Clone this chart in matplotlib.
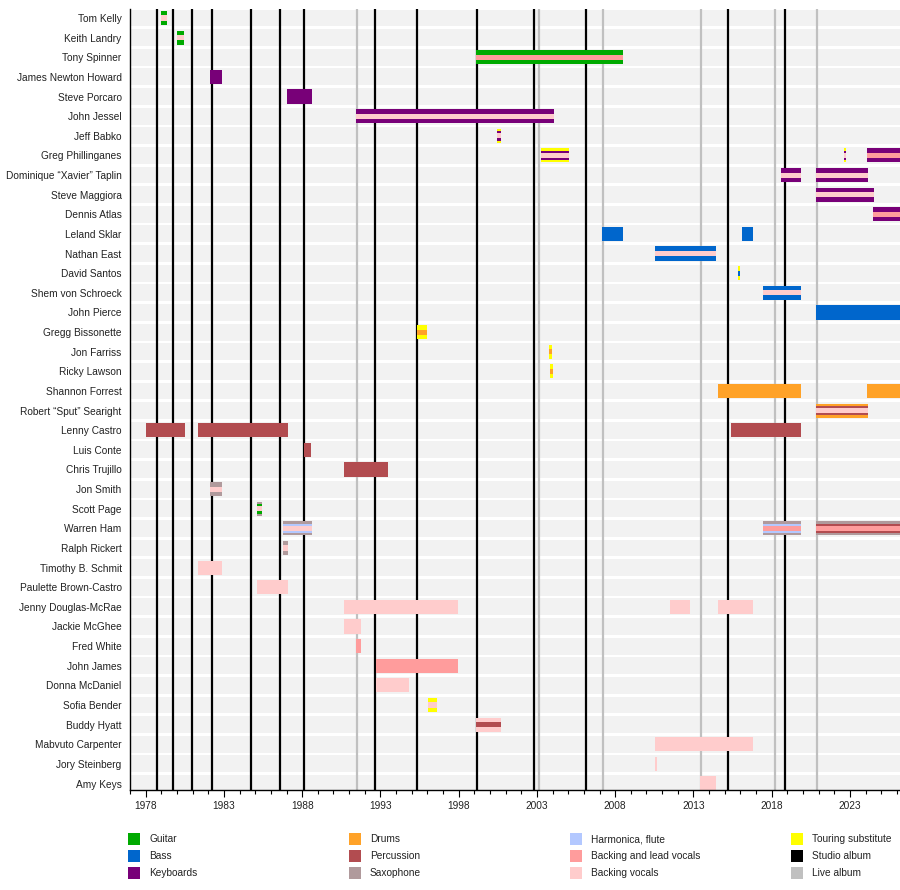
import matplotlib
matplotlib.use("Agg")
import matplotlib.pyplot as plt
from matplotlib.patches import Rectangle

plt.rcParams['font.family'] = ['Liberation Sans', 'DejaVu Sans']

END = 2026.2

names = ["Tom Kelly", "Keith Landry", "Tony Spinner", "James Newton Howard", "Steve Porcaro",
         "John Jessel", "Jeff Babko", "Greg Phillinganes", "Dominique \u201cXavier\u201d Taplin",
         "Steve Maggiora", "Dennis Atlas", "Leland Sklar", "Nathan East", "David Santos",
         "Shem von Schroeck", "John Pierce", "Gregg Bissonette", "Jon Farriss", "Ricky Lawson",
         "Shannon Forrest", "Robert \u201cSput\u201d Searight", "Lenny Castro", "Luis Conte",
         "Chris Trujillo", "Jon Smith", "Scott Page", "Warren Ham", "Ralph Rickert",
         "Timothy B. Schmit", "Paulette Brown-Castro", "Jenny Douglas-McRae", "Jackie McGhee",
         "Fred White", "John James", "Donna McDaniel", "Sofia Bender", "Buddy Hyatt",
         "Mabvuto Carpenter", "Jory Steinberg", "Amy Keys"]

# (start, end, roles) per member; first role is the outer bar
periods = [
    [(1979.0, 1979.35, ("guitar", "backing"))],
    [(1980.0, 1980.43, ("guitar", "backing"))],
    [(1999.1, 2008.5, ("guitar", "lead"))],
    [(1982.13, 1982.86, ("keyboards",))],
    [(1987.03, 1988.63, ("keyboards",))],
    [(1991.44, 2004.09, ("keyboards", "backing"))],
    [(2000.43, 2000.7, ("touring", "keyboards", "backing"))],
    [(2003.26, 2005.05, ("touring", "keyboards", "backing")),
     (2022.65, 2022.78, ("touring", "keyboards", "backing")),
     (2024.1, END, ("keyboards", "lead"))],
    [(2018.6, 2019.87, ("keyboards", "backing")), (2020.83, 2024.17, ("keyboards", "backing"))],
    [(2020.83, 2024.55, ("keyboards", "backing"))],
    [(2024.48, END, ("keyboards", "lead"))],
    [(2007.16, 2008.5, ("bass",)), (2016.1, 2016.8, ("bass",))],
    [(2010.55, 2014.45, ("bass", "backing"))],
    [(2015.87, 2015.97, ("touring", "bass"))],
    [(2017.45, 2019.87, ("bass", "backing"))],
    [(2020.83, END, ("bass",))],
    [(1995.33, 1995.97, ("touring", "drums"))],
    [(2003.77, 2003.97, ("touring", "drums"))],
    [(2003.83, 2004.03, ("touring", "drums"))],
    [(2014.57, 2019.87, ("drums",)), (2024.1, END, ("drums",))],
    [(2020.83, 2024.17, ("drums", "percussion", "backing"))],
    [(1978.02, 1980.51, ("percussion",)), (1981.34, 1987.09, ("percussion",)),
     (2015.42, 2019.87, ("percussion",))],
    [(1988.1, 1988.56, ("percussion",))],
    [(1990.67, 1993.48, ("percussion",))],
    [(1982.1, 1982.87, ("sax", "backing"))],
    [(1985.11, 1985.43, ("sax", "guitar", "backing"))],
    [(1986.77, 1988.63, ("sax", "harmonica", "backing")),
     (2017.45, 2019.87, ("sax", "harmonica", "lead")),
     (2020.83, END, ("sax", "percussion", "lead"))],
    [(1986.77, 1987.09, ("sax", "backing"))],
    [(1981.34, 1982.87, ("backing",))],
    [(1985.11, 1987.09, ("backing",))],
    [(1990.67, 1997.96, ("backing",)), (2011.5, 2012.78, ("backing",)),
     (2014.57, 2016.8, ("backing",))],
    [(1990.67, 1991.76, ("backing",))],
    [(1991.44, 1991.76, ("lead",))],
    [(1992.72, 1997.96, ("lead",))],
    [(1992.72, 1994.83, ("backing",))],
    [(1996.04, 1996.6, ("touring", "backing"))],
    [(1999.1, 2000.7, ("backing", "percussion"))],
    [(2010.55, 2016.8, ("backing",))],
    [(2010.55, 2010.65, ("backing",))],
    [(2013.4, 2014.45, ("backing",))],
]

studio_albums = [1978.72, 1979.74, 1980.96, 1982.24, 1984.73, 1986.58, 1988.11, 1992.65,
                 1995.33, 1999.19, 2002.79, 2006.12, 2015.19, 2018.83]
live_albums = [1991.5, 2003.13, 2007.22, 2013.48, 2018.21, 2020.89]

role_colors = {
    "guitar": "#00AA00", "bass": "#0066CC", "keyboards": "#780078",
    "drums": "#FFA228", "percussion": "#B24C50", "sax": "#B09A9C",
    "harmonica": "#B3C8FF", "lead": "#FF9C9C", "backing": "#FFCCCC",
    "touring": "#FFFF00", "studio": "#000000", "live": "#C0C0C0",
}
legend_labels = ["Guitar", "Bass", "Keyboards", "Drums", "Percussion", "Saxophone",
                 "Harmonica, flute", "Backing and lead vocals", "Backing vocals",
                 "Touring substitute", "Studio album", "Live album"]
legend_keys = ["guitar", "bass", "keyboards", "drums", "percussion", "sax",
               "harmonica", "lead", "backing", "touring", "studio", "live"]

major_ticks = list(range(1978, 2024, 5))
minor_ticks = list(range(1977, 2027))

fig = plt.figure(figsize=(9, 8.9), dpi=100)
ax = fig.add_axes([130 / 900, 100 / 890, 770 / 900, 781 / 890])
ax.set_xlim(1977.02, 2026.2)
ax.set_ylim(39.33, -0.46)

n = len(names)
# background stripes
for i in range(n):
    ax.add_patch(Rectangle((1977.02, i - 0.43), 2026.2 - 1977.02, 0.86,
                           facecolor="#F2F2F2", edgecolor="none", zorder=0))

for x in studio_albums:
    ax.axvline(x, color=role_colors["studio"], lw=1.6, zorder=1)
for x in live_albums:
    ax.axvline(x, color=role_colors["live"], lw=1.6, zorder=1)

H = 0.72
for i, plist in enumerate(periods):
    for (s, e, roles) in plist:
        k = len(roles)
        if k == 1:
            hs = [H]
        elif k == 2:
            hs = [H, H * 0.36]
        else:
            hs = [H, H * 0.68, H * 0.36]
        for r, h in zip(roles, hs):
            ax.add_patch(Rectangle((s, i - h / 2), e - s, h,
                                   facecolor=role_colors[r], edgecolor="none", zorder=2))

ax.set_yticks(range(n))
ax.set_yticklabels(names, fontsize=7.3, color="#222222")
ax.tick_params(axis="y", length=0, pad=6)

ax.set_xticks(major_ticks)
ax.set_xticklabels([str(t) for t in major_ticks], fontsize=7.3, color="#222222")
ax.set_xticks(minor_ticks, minor=True)
ax.tick_params(axis="x", which="major", length=5, width=0.8, pad=3)
ax.tick_params(axis="x", which="minor", length=3, width=0.8)

for sp in ["top", "right"]:
    ax.spines[sp].set_visible(False)
ax.spines["left"].set_linewidth(1.0)
ax.spines["bottom"].set_linewidth(1.0)

# legend
col_x = [128, 349, 570, 791]
row_y = [839, 856, 873]
for idx, (lab, key) in enumerate(zip(legend_labels, legend_keys)):
    c, r = divmod(idx, 3)
    x0 = col_x[c]
    yc = row_y[r]
    fig.patches.append(Rectangle((x0 / 900, 1 - (yc + 6) / 890), 12 / 900, 12 / 890,
                                 transform=fig.transFigure, facecolor=role_colors[key],
                                 edgecolor="none"))
    fig.text((x0 + 21) / 900, 1 - yc / 890, lab, fontsize=7.3, va="center", ha="left",
             color="#222222")

fig.savefig("out.png", dpi=100)
